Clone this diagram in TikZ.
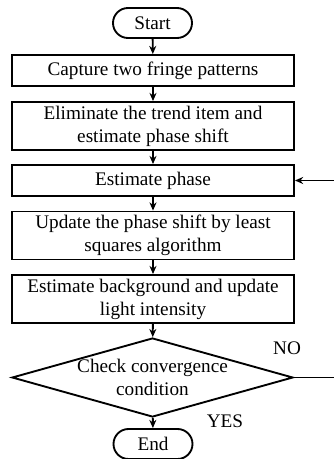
\documentclass[tikz,border=0pt]{standalone}
\usepackage{fontspec}
\setmainfont{Liberation Serif}
\usetikzlibrary{shapes.geometric,arrows.meta}

\tikzset{
    flow/.style={line width=1.6pt, -{Stealth[length=7pt,width=6pt]}},
    stepbox/.style={draw, line width=1.6pt, minimum width=8.46cm, minimum height=0.93cm, align=center, inner sep=0pt},
    tallbox/.style={stepbox, minimum height=1.44cm},
    termbox/.style={draw, line width=1.6pt, rounded corners=0.45cm, minimum width=2.37cm, minimum height=0.9cm, inner sep=0pt},
    checkbox/.style={draw, line width=1.6pt, diamond, aspect=3.56, inner sep=0pt, minimum width=8.43cm, minimum height=2.37cm, align=center}
}

\begin{document}
\begin{tikzpicture}[x=0.03cm, y=-0.03cm, font=\fontsize{16.4}{19.5}\selectfont]
    \useasboundingbox (0, 0) rectangle (333, 459);

    \node[termbox] (start) at (152.5, 23) {Start};
    \node[stepbox] (cap) at (153, 70.5) {Capture two fringe patterns};
    \node[tallbox] (elim) at (153, 126) {Eliminate the trend item and\\estimate phase shift};
    \node[stepbox] (est) at (153, 180.5) {Estimate phase};
    \node[tallbox] (upd) at (153, 235.5) {Update the phase shift by least\\squares algorithm};
    \node[tallbox] (bg) at (153, 299) {Estimate background and update\\light intensity};
    \node[checkbox] (chk) at (152.5, 377.5) {Check convergence\\condition};
    \node[termbox] (stop) at (153, 444) {End};

    \node (no) at (287, 348) {NO};
    \node (yes) at (225, 421) {YES};

    \draw[flow] (start) -- (cap);
    \draw[flow] (cap) -- (elim);
    \draw[flow] (elim) -- (est);
    \draw[flow] (est) -- (upd);
    \draw[flow] (upd) -- (bg);
    \draw[flow] (bg) -- (chk);
    \draw[flow] (chk) -- (stop);
    \draw[flow] (chk.east) -- ++(48, 0) |- (est.east);
\end{tikzpicture}
\end{document}
